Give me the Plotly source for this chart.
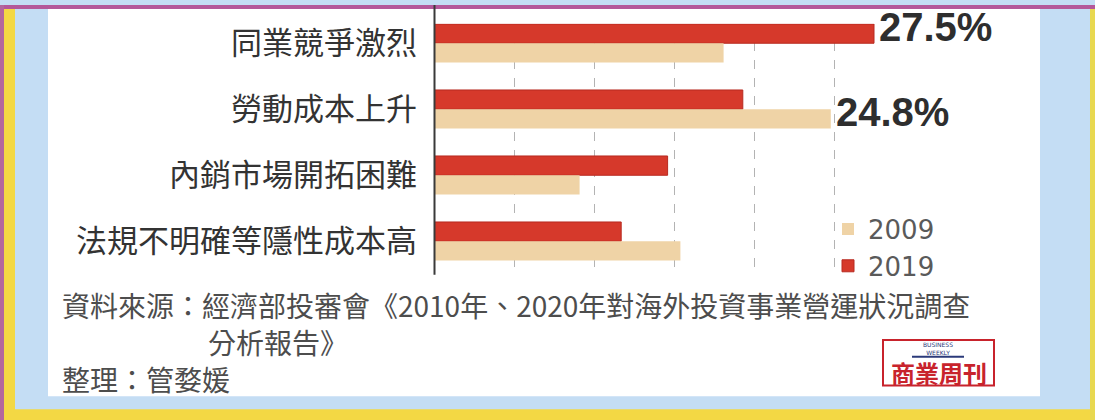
import plotly.graph_objects as go

W, H = 1095, 420

categories = ["同業競爭激烈", "勞動成本上升", "內銷市場開拓困難", "法規不明確等隱性成本高"]
values_2019 = [27.5, 19.3, 14.6, 11.7]
values_2009 = [18.1, 24.8, 9.1, 15.4]
labels_2019 = ["27.5%", "", "", ""]
labels_2009 = ["", "24.8%", "", ""]
grid_ticks = [0, 5, 10, 15, 20, 25]

source_line1 = "資料來源：經濟部投審會《2010年、2020年對海外投資事業營運狀況調查"
source_line2 = "分析報告》"
credit_line = "整理：管婺媛"

RED = "#d6392b"
BEIGE = "#efd3a6"
CJK = "Noto Sans CJK TC"


def px(x):
    return x / W


def py(y):
    return 1 - y / H


value_font = dict(family="Liberation Sans", size=40, color="#2e2e2e", weight="bold")

fig = go.Figure()
fig.add_trace(go.Bar(
    y=categories, x=values_2019, name="2019", orientation="h",
    marker=dict(color=RED, line=dict(color="#b82a20", width=1)),
))
fig.add_trace(go.Bar(
    y=categories, x=values_2009, name="2009", orientation="h",
    marker=dict(color=BEIGE, line=dict(width=0)),
))

shapes = [
    # white panel
    dict(type="rect", xref="paper", yref="paper", x0=px(48), x1=px(1040),
         y0=py(396), y1=py(3), fillcolor="white", line=dict(width=0), layer="below"),
    # top band
    dict(type="rect", xref="paper", yref="paper", x0=0, x1=1, y0=py(4), y1=1,
         fillcolor="#b4589a", line=dict(width=0), layer="below"),
    # left pink edge
    dict(type="rect", xref="paper", yref="paper", x0=0, x1=px(4), y0=0, y1=1,
         fillcolor="#b3679d", line=dict(width=0), layer="below"),
    # left yellow strip
    dict(type="rect", xref="paper", yref="paper", x0=px(4), x1=px(15), y0=py(412), y1=py(4),
         fillcolor="#f3d844", line=dict(width=0), layer="below"),
    # bottom yellow strip
    dict(type="rect", xref="paper", yref="paper", x0=px(4), x1=1, y0=0, y1=py(409),
         fillcolor="#f3d844", line=dict(width=0), layer="below"),
    # right yellow strip
    dict(type="rect", xref="paper", yref="paper", x0=px(1090), x1=1, y0=0, y1=py(4),
         fillcolor="#e8d850", line=dict(width=0), layer="below"),
    # axis line
    dict(type="line", xref="paper", yref="paper", x0=px(434.5), x1=px(434.5),
         y0=py(273), y1=py(0), line=dict(color="#3a3a3a", width=2)),
    # logo box
    dict(type="rect", xref="paper", yref="paper", x0=px(883), x1=px(994),
         y0=py(385), y1=py(339), fillcolor="white", line=dict(color="#c8232c", width=2)),
    dict(type="line", xref="paper", yref="paper", x0=px(912), x1=px(964),
         y0=py(356), y1=py(356), line=dict(color="#2b3a7a", width=2)),
]

annotations = []
# value labels, anchored to the data through the axes
for vals, labs, shift in ((values_2019, labels_2019, 16), (values_2009, labels_2009, -3)):
    for cat, v, lab in zip(categories, vals, labs):
        if lab:
            annotations.append(dict(
                text=lab, x=v, y=cat, xref="x", yref="y",
                xanchor="left", yanchor="middle", xshift=4, yshift=shift,
                showarrow=False, font=value_font, borderpad=0,
            ))

src_font = dict(family=CJK, size=28, color="#4d4d4d")
annotations += [
    dict(text=source_line1, x=px(61), y=py(304), xref="paper", yref="paper",
         xanchor="left", yanchor="middle", showarrow=False, font=src_font, borderpad=0),
    dict(text=source_line2, x=px(207), y=py(341), xref="paper", yref="paper",
         xanchor="left", yanchor="middle", showarrow=False, font=src_font, borderpad=0),
    dict(text=credit_line, x=px(61), y=py(378), xref="paper", yref="paper",
         xanchor="left", yanchor="middle", showarrow=False, font=src_font, borderpad=0),
    dict(text="BUSINESS<br>WEEKLY", x=px(938), y=py(348), xref="paper", yref="paper",
         xanchor="center", yanchor="middle", showarrow=False, borderpad=0,
         font=dict(family="DejaVu Sans", size=6, color="#2b3a7a")),
    dict(text="<b>商業周刊</b>", x=px(938.5), y=py(372), xref="paper", yref="paper",
         xanchor="center", yanchor="middle", showarrow=False, borderpad=0,
         font=dict(family=CJK, size=24, color="#c8232c")),
]

fig.update_layout(
    width=W, height=H,
    margin=dict(l=0, r=0, t=0, b=0),
    paper_bgcolor="#c4ddf4",
    plot_bgcolor="rgba(0,0,0,0)",
    barmode="group",
    bargap=0.416,
    bargroupgap=0,
    showlegend=True,
    legend=dict(
        x=px(828), y=py(203), xanchor="left", yanchor="top",
        traceorder="reversed", itemwidth=30,
        font=dict(family="DejaVu Sans", size=26, color="#5a5a5a"),
        bgcolor="rgba(0,0,0,0)", borderwidth=0, tracegroupgap=0,
    ),
    xaxis=dict(
        domain=[px(434), px(1040)], range=[0, 37.875],
        tickvals=grid_ticks, showticklabels=False, ticks="",
        showgrid=True, gridcolor="#b3b3b3", gridwidth=1, griddash="dash",
        zeroline=False, showline=False, fixedrange=True,
    ),
    yaxis=dict(
        domain=[py(272.5), py(19)],
        categoryorder="array", categoryarray=categories,
        range=[3.5, -0.295],
        showgrid=False, zeroline=False, showline=False, ticks="",
        ticklabelstandoff=16,
        tickfont=dict(family=CJK, size=31, color="#333333"),
        fixedrange=True,
    ),
    shapes=shapes,
    annotations=annotations,
)

fig.write_html("out.html")
